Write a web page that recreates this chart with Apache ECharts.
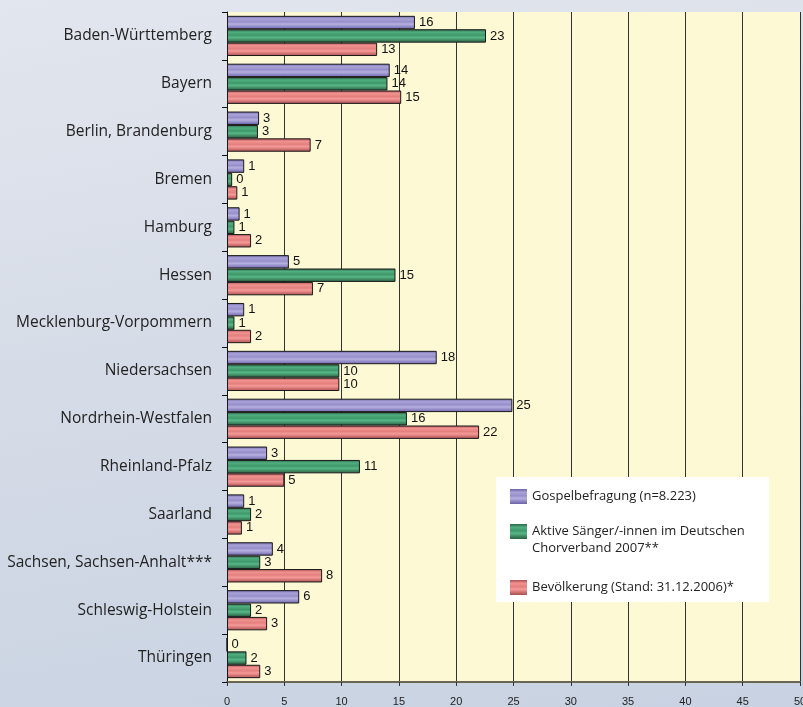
<!DOCTYPE html>
<html>
<head>
<meta charset="utf-8">
<script src="https://cdn.jsdelivr.net/npm/echarts@6/dist/echarts.min.js"></script>
<style>
html, body { margin: 0; padding: 0; }
#chart {
	width: 803px; height: 707px;
	background: linear-gradient(170deg, #e2e6ee 0%, #d6dce7 45%, #c8d2e2 100%);
}
</style>
</head>
<body>
<div id="chart"></div>
<script>
// Bundesländer
var laender = ['Baden-Württemberg', 'Bayern', 'Berlin, Brandenburg', 'Bremen', 'Hamburg', 'Hessen',
	'Mecklenburg-Vorpommern', 'Niedersachsen', 'Nordrhein-Westfalen', 'Rheinland-Pfalz', 'Saarland',
	'Sachsen, Sachsen-Anhalt***', 'Schleswig-Holstein', 'Thüringen'];

var serienNamen = ['Gospelbefragung (n=8.223)', 'Aktive Sänger/-innen im Deutschen\nChorverband 2007**', 'Bevölkerung (Stand: 31.12.2006)*'];

// Anteile in %
var gospel = [16.4, 14.2, 2.8, 1.5, 1.1, 5.4, 1.5, 18.3, 24.9, 3.5, 1.5, 4.0, 6.3, 0];
var chor = [22.6, 14.0, 2.7, 0.45, 0.65, 14.7, 0.65, 9.8, 15.7, 11.6, 2.1, 2.9, 2.1, 1.7];
var bevoelkerung = [13.1, 15.2, 7.3, 0.9, 2.1, 7.5, 2.1, 9.8, 22.0, 5.0, 1.3, 8.3, 3.5, 2.9];

// beschriftung an den balken
var gospelLabel = [16, 14, 3, 1, 1, 5, 1, 18, 25, 3, 1, 4, 6, 0];
var chorLabel = [23, 14, 3, 0, 1, 15, 1, 10, 16, 11, 2, 3, 2, 2];
var bevLabel = [13, 15, 7, 1, 2, 7, 2, 10, 22, 5, 1, 8, 3, 3];

var xTicks = [0, 50, 5];

function streifen(c) {
	return new echarts.graphic.LinearGradient(0, 0, 0, 1, [
		{ offset: 0, color: c[0] }, { offset: 0.22, color: c[1] }, { offset: 0.45, color: c[2] },
		{ offset: 0.62, color: c[3] }, { offset: 0.85, color: c[4] }, { offset: 1, color: c[0] }
	]);
}
var farben = [
	['#6a62a6', '#aaa3d8', '#968fca', '#b6b0e0', '#8981c0'],
	['#2c6446', '#50ae7f', '#3e9869', '#58b787', '#3a805a'],
	['#a94f52', '#f29290', '#e3807e', '#f59a98', '#c96a6a']
];

function serie(i, werte, labels) {
	return {
		name: serienNamen[i],
		type: 'bar',
		data: werte,
		barGap: '0%',
		barCategoryGap: '16%',
		itemStyle: { color: streifen(farben[i]), borderColor: '#1a1a1a', borderWidth: 1 },
		label: {
			show: true, position: 'right', distance: 4,
			fontFamily: 'Liberation Sans, Arial', fontSize: 13, color: '#111',
			formatter: function (p) { return labels[p.dataIndex]; }
		}
	};
}

var myChart = echarts.init(document.getElementById('chart'));
var legendText = { fontFamily: 'Open Sans', fontSize: 13, color: '#222', lineHeight: 17 };
var option = {
	backgroundColor: 'transparent',
	animation: false,
	grid: {
		left: 227, right: 3, top: 12, bottom: 25,
		show: true, backgroundColor: '#fdf9d5', borderWidth: 0,
		outerBoundsMode: 'none'
	},
	graphic: [{
		type: 'rect', left: 496, top: 477, z: 3,
		shape: { width: 273, height: 125 },
		style: { fill: '#ffffff' }
	}],
	legend: [0, 1, 2].map(function (i) {
		var tops = [488, 506, 579];
		return {
			data: [{ name: serienNamen[i], icon: 'rect' }],
			left: 510, top: tops[i], orient: 'vertical', padding: 0, z: 5,
			itemWidth: 17, itemHeight: 15, selectedMode: false,
			itemStyle: { borderWidth: 0 },
			textStyle: legendText,
			// zweizeiliger eintrag: erste zeile auf höhe des symbols
			formatter: function (name) { return name.indexOf('\n') > 0 ? ' \n' + name : name; }
		};
	}),
	xAxis: {
		type: 'value', min: xTicks[0], max: xTicks[1], interval: xTicks[2],
		axisLine: { show: true, lineStyle: { color: '#6a6652', width: 2 } },
		axisTick: { show: true, length: 4, lineStyle: { color: '#333' } },
		axisLabel: { fontFamily: 'Liberation Sans, Arial', fontSize: 11, color: '#222', margin: 14 },
		splitLine: { show: true, lineStyle: { color: '#333', width: 1 } }
	},
	yAxis: {
		type: 'category', data: laender, inverse: true,
		axisLine: { show: true, lineStyle: { color: '#111', width: 1 } },
		axisTick: { show: true, length: 5, lineStyle: { color: '#111' } },
		axisLabel: { fontFamily: 'Open Sans', fontSize: 15.5, color: '#222', margin: 15 }
	},
	series: [serie(0, gospel, gospelLabel), serie(1, chor, chorLabel), serie(2, bevoelkerung, bevLabel)]
};
myChart.setOption(option);
</script>
</body>
</html>
